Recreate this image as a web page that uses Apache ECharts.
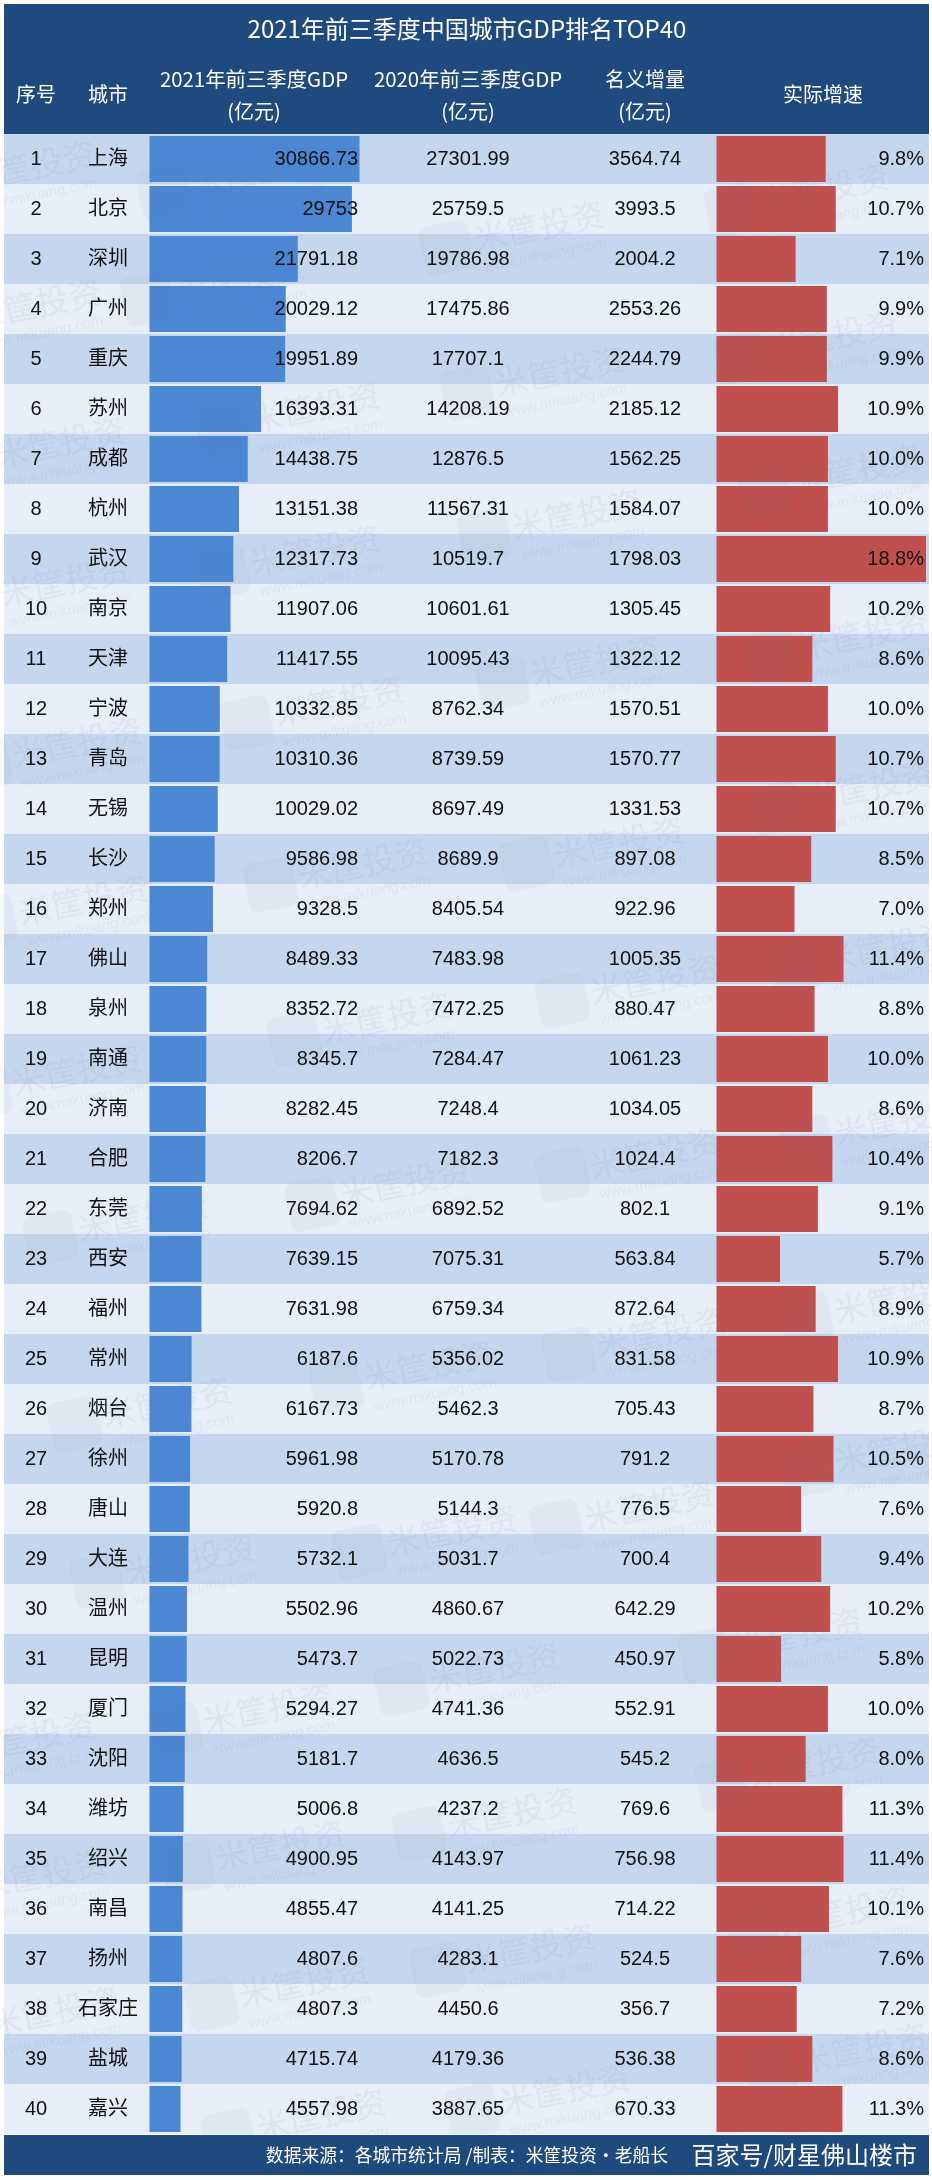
<!DOCTYPE html>
<html>
<head>
<meta charset="utf-8">
<style>
  html, body { margin: 0; padding: 0; background: #fff; }
  #chart { width: 932px; height: 2180px; }
</style>
<script src="https://cdn.jsdelivr.net/npm/echarts@6/dist/echarts.min.js"></script>
</head>
<body>
<div id="chart"></div>
<script>
var ranks = ['1','2','3','4','5','6','7','8','9','10','11','12','13','14','15','16','17','18','19','20','21','22','23','24','25','26','27','28','29','30','31','32','33','34','35','36','37','38','39','40'];
var cities = ['上海','北京','深圳','广州','重庆','苏州','成都','杭州','武汉','南京','天津','宁波','青岛','无锡','长沙','郑州','佛山','泉州','南通','济南','合肥','东莞','西安','福州','常州','烟台','徐州','唐山','大连','温州','昆明','厦门','沈阳','潍坊','绍兴','南昌','扬州','石家庄','盐城','嘉兴'];
var gdp2021 = [30866.73,29753,21791.18,20029.12,19951.89,16393.31,14438.75,13151.38,12317.73,11907.06,11417.55,10332.85,10310.36,10029.02,9586.98,9328.5,8489.33,8352.72,8345.7,8282.45,8206.7,7694.62,7639.15,7631.98,6187.6,6167.73,5961.98,5920.8,5732.1,5502.96,5473.7,5294.27,5181.7,5006.8,4900.95,4855.47,4807.6,4807.3,4715.74,4557.98];
var gdp2020 = [27301.99,25759.5,19786.98,17475.86,17707.1,14208.19,12876.5,11567.31,10519.7,10601.61,10095.43,8762.34,8739.59,8697.49,8689.9,8405.54,7483.98,7472.25,7284.47,7248.4,7182.3,6892.52,7075.31,6759.34,5356.02,5462.3,5170.78,5144.3,5031.7,4860.67,5022.73,4741.36,4636.5,4237.2,4143.97,4141.25,4283.1,4450.6,4179.36,3887.65];
var increase = [3564.74,3993.5,2004.2,2553.26,2244.79,2185.12,1562.25,1584.07,1798.03,1305.45,1322.12,1570.51,1570.77,1331.53,897.08,922.96,1005.35,880.47,1061.23,1034.05,1024.4,802.1,563.84,872.64,831.58,705.43,791.2,776.5,700.4,642.29,450.97,552.91,545.2,769.6,756.98,714.22,524.5,356.7,536.38,670.33];
var growth = [9.8,10.7,7.1,9.9,9.9,10.9,10.0,10.0,18.8,10.2,8.6,10.0,10.7,10.7,8.5,7.0,11.4,8.8,10.0,8.6,10.4,9.1,5.7,8.9,10.9,8.7,10.5,7.6,9.4,10.2,5.8,10.0,8.0,11.3,11.4,10.1,7.6,7.2,8.6,11.3];

// watermark spots
var marks = [[539,226],[824,188],[560,371],[833,335],[315,407],[577,514],[60,442],[857,469],[315,550],[65,581],[595,661],[863,634],[339,701],[77,742],[869,786],[256,170],[240,277],[36,304],[30,166],[619,842],[363,863],[83,900],[655,979],[387,1017],[887,946],[77,1070],[405,1182],[655,1153],[899,1120],[143,1216],[661,1332],[429,1365],[899,1298],[167,1402],[649,1505],[452,1530],[900,1448],[190,1559],[798,1633],[494,1667],[30,1737],[268,1708],[815,1762],[512,1812],[280,1845],[42,1874],[845,1911],[530,1948],[304,1982],[54,2011],[863,2048],[565,2089],[321,2114]];

var FONT = '"Liberation Sans","Noto Sans CJK SC",sans-serif';
var CJK = '"Noto Sans CJK SC",sans-serif';
var NAVY = '#1f4a7d';
var LEFT = 4, RIGHT = 929, TOP = 134, ROWS_H = 2000;

function hiddenX(i, max) {
  return { gridIndex: i, type: 'value', min: 0, max: max, show: false };
}

function hiddenY(i) {
  return { gridIndex: i, type: 'category', inverse: true, data: cities, show: false };
}

// one table column is one more category axis, moved to its x
function textAxis(labels, x, align) {
  return {
    gridIndex: 0,
    type: 'category',
    inverse: true,
    data: labels,
    position: 'left',
    offset: LEFT - x,
    z: 10,
    axisLine: { show: false },
    axisTick: { show: false },
    splitLine: { show: false },
    axisLabel: {
      interval: 0, margin: 0, align: align, verticalAlign: 'middle', padding: [2, 0, 0, 0],
      color: '#111', fontSize: 20, fontFamily: FONT
    }
  };
}

function headerText(str, x, y, size, align) {
  return {
    type: 'text', x: x, y: y, z: 20,
    style: {
      text: str, fill: '#fff', font: size + 'px ' + CJK,
      align: align || 'center', verticalAlign: 'middle'
    }
  };
}

var graphics = [
  { type: 'rect', z: 19, shape: { x: LEFT, y: 4, width: RIGHT - LEFT, height: 130 }, style: { fill: NAVY } },
  { type: 'rect', z: 19, shape: { x: LEFT, y: 2135, width: RIGHT - LEFT, height: 40 }, style: { fill: NAVY } },
  headerText('2021年前三季度中国城市GDP排名TOP40', 467, 29, 24),
  headerText('序号', 36, 94, 20),
  headerText('城市', 108, 94, 20),
  headerText('2021年前三季度GDP', 254, 79, 20.4),
  headerText('(亿元)', 254, 111, 20),
  headerText('2020年前三季度GDP', 468, 79, 20.4),
  headerText('(亿元)', 468, 111, 20),
  headerText('名义增量', 645, 79, 20),
  headerText('(亿元)', 645, 111, 20),
  headerText('实际增速', 823, 94, 20),
  headerText('数据来源：各城市统计局 /制表：米筐投资·老船长', 668, 2155, 17.8, 'right'),
  headerText('百家号/财星佛山楼市', 917, 2155, 24, 'right')
];

marks.forEach(function (m) {
  graphics.push({
    type: 'group', x: m[0], y: m[1], rotation: 0.2, silent: true,
    children: [
      { type: 'rect', z: 15, shape: { x: -120, y: -22, width: 50, height: 50, r: 9 }, style: { fill: 'rgba(105,118,140,0.05)' } },
      { type: 'text', z: 15, style: { text: '米筐投资', x: 0, y: 0, align: 'center', verticalAlign: 'middle', font: '33px ' + CJK, fill: 'rgba(105,118,140,0.08)' } },
      { type: 'text', z: 15, style: { text: 'www.mikuang.com', x: 0, y: 30, align: 'center', verticalAlign: 'middle', font: '15px ' + FONT, fill: 'rgba(105,118,140,0.08)' } }
    ]
  });
});

var chart = echarts.init(document.getElementById('chart'));
chart.setOption({
  animation: false,
  backgroundColor: '#fff',
  grid: [
    { left: LEFT, top: TOP, width: RIGHT - LEFT, height: ROWS_H },
    { left: 149.5, top: TOP, width: 210, height: ROWS_H },
    { left: 716.5, top: TOP, width: 209.5, height: ROWS_H }
  ],
  xAxis: [
    hiddenX(0, 1),
    hiddenX(1, Math.max.apply(null, gdp2021)),
    hiddenX(2, Math.max.apply(null, growth))
  ],
  yAxis: [
    {
      gridIndex: 0, type: 'category', inverse: true, data: cities, z: 0,
      axisLine: { show: false }, axisTick: { show: false }, axisLabel: { show: false },
      splitLine: { show: false },
      splitArea: { show: true, interval: 0, areaStyle: { color: ['#c5d7ee', '#e8eef8'] } }
    },
    hiddenY(1),
    hiddenY(2),
    textAxis(ranks, 36, 'center'),
    textAxis(cities, 108, 'center'),
    textAxis(gdp2021.map(String), 358, 'right'),
    textAxis(gdp2020.map(String), 468, 'center'),
    textAxis(increase.map(String), 645, 'center'),
    textAxis(growth.map(function (v) { return v.toFixed(1) + '%'; }), 924, 'right')
  ],
  series: [
    {
      name: '2021年前三季度GDP', type: 'bar', xAxisIndex: 1, yAxisIndex: 1,
      barWidth: 46, data: gdp2021, itemStyle: { color: '#4c87d4' }
    },
    {
      name: '实际增速', type: 'bar', xAxisIndex: 2, yAxisIndex: 2,
      barWidth: 46, data: growth, itemStyle: { color: '#c0504e' }
    }
  ],
  graphic: { elements: graphics }
});
</script>
</body>
</html>
